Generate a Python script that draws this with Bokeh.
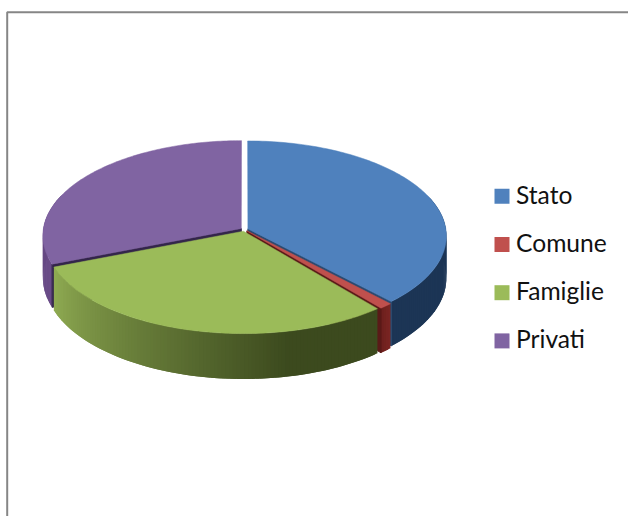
import numpy as np
from bokeh.plotting import figure
from bokeh.models import Range1d
from bokeh.core.properties import value
from bokeh.embed import file_html
from bokeh.resources import INLINE

labels = ["Stato", "Comune", "Famiglie", "Privati"]
values = [38, 1, 30, 31]
top_colors = ["#4F81BD", "#C0504D", "#9BBB59", "#8064A2"]
wall_light = ["#24436A", "#7A2522", "#8FAB52", "#6A4C88"]
wall_dark = ["#1C3555", "#6E201E", "#3C4A1E", "#5E4279"]
inner_colors = ["#2C4A70", "#5A1A18", "#3C4A1E", "#33254A"]

CX, CY, A, B, K, T, E = 243.9, 229.0, 198.0, 94.5, 0.074, 42.0, 0.019


def project(theta, mid, lift=0.0, radius=1.0):
    sx = radius * np.sin(theta) + E * np.sin(mid)
    d = radius * np.cos(theta) + E * np.cos(mid)
    w = 1 + K * d
    return CX + A * sx / w, CY - B * d / w + lift * T / w


def hexmix(c1, c2, t):
    a = [int(c1[i:i + 2], 16) for i in (1, 3, 5)]
    b = [int(c2[i:i + 2], 16) for i in (1, 3, 5)]
    return "#%02x%02x%02x" % tuple(int(round(u + (v - u) * t)) for u, v in zip(a, b))


p = figure(width=628, height=516, x_range=Range1d(0, 628), y_range=Range1d(516, 0),
           toolbar_location=None, output_backend="svg", min_border=0,
           outline_line_color=None, background_fill_color="white", border_fill_color="white")
p.axis.visible = False
p.grid.visible = False

# frame
p.line([6.7, 6.7, 628], [516, 11.7, 11.7], line_color="#868686", line_width=2)

edges = np.radians(np.concatenate([[0], np.cumsum(values)]) / np.sum(values) * 360)
for i in [3, 0, 1, 2]:
    a0, a1 = edges[i], edges[i + 1]
    mid = (a0 + a1) / 2
    # outer wall as small shaded strips; each one runs under the next so no seams show
    n = max(4, int(np.degrees(a1 - a0)))
    th = np.linspace(a0, a1, n + 1)
    xs, ys, cs = [], [], []
    for j in range(n):
        if np.cos(th[j:j + 2]).mean() > 0.35:
            continue
        pair = np.array([th[j], th[min(j + 2, n)]])
        xt, yt = project(pair, mid)
        xb, yb = project(pair[::-1], mid, 1.0)
        xs.append(np.r_[xt, xb])
        ys.append(np.r_[yt, yb])
        cs.append(hexmix(wall_light[i], wall_dark[i], min(1.0, (j / n) * 1.35)))
    if i == 2:  # green darkens towards the right, which is the start of its arc
        cs = cs[::-1]
    p.patches(xs, ys, fill_color=cs, line_color=None)
    # inner wall (the cut face that closes the gap to the next slice)
    if i in (0, 1, 3):
        cut = a0 if i == 3 else a1
        x_top, y_top = project(np.array([cut, cut]), mid, 0.0, np.array([0.0, 1.0]))
        x_bot, y_bot = project(np.array([cut, cut]), mid, 1.0, np.array([1.0, 0.0]))
        p.patch(np.r_[x_top, x_bot], np.r_[y_top, y_bot], fill_color=inner_colors[i],
                line_color=inner_colors[i], line_width=1)
    # top face
    th = np.linspace(a0, a1, 120)
    xr, yr = project(th, mid)
    xc, yc = project(np.array([mid]), mid, 0.0, 0.0)
    p.patch(np.r_[xc, xr], np.r_[yc, yr], fill_color=top_colors[i], line_color=top_colors[i],
            line_width=0.5)

# legend
ly = [195.8 + 48.2 * i for i in range(len(labels))]
p.scatter([501.5] * 4, ly, marker="square", size=15, fill_color=top_colors, line_color=None)
p.text([515.5] * 4, [v - 2.2 for v in ly], text=labels, text_font=value("Lato"),
       text_font_size="24.6px", text_color="#111111", text_baseline="middle", text_align="left")

open("out.html", "w").write(file_html(p, INLINE))
